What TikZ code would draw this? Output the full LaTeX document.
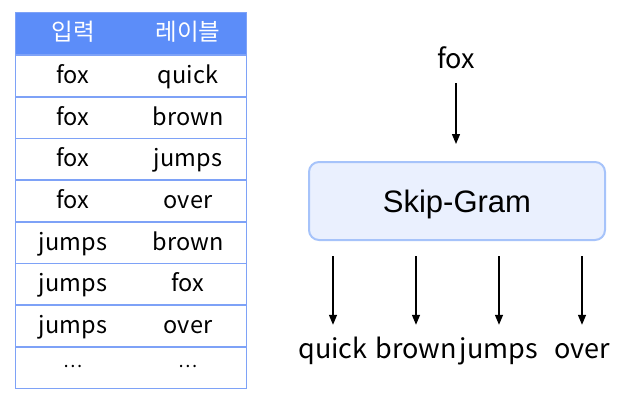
\documentclass[tikz,border=0pt]{standalone}
\usepackage{fontspec}
\setmainfont{Noto Sans CJK KR}
\newfontfamily\arialfont{Liberation Sans}
\usetikzlibrary{arrows.meta, positioning}

\definecolor{headblue}{HTML}{5C8DF9}
\definecolor{lineblue}{HTML}{7EA2F7}
\definecolor{boxfill}{HTML}{EAF0FE}
\definecolor{boxline}{HTML}{A6C3FA}

\begin{document}
\begin{tikzpicture}[
  x=1pt, y=-1pt,
  row/.style={draw=lineblue, line width=1pt, minimum width=231pt,
              minimum height=41.75pt, inner sep=0pt},
  head/.style={row, fill=headblue, minimum height=42pt},
  cell/.style={font=\fontsize{23.5}{26}\selectfont, inner sep=0pt,
               text height=17pt, text depth=5pt},
  headcell/.style={cell, text=white},
  dots/.style={font=\fontsize{18}{20}\selectfont, inner sep=0pt},
  word/.style={font=\fontsize{27}{30}\selectfont, inner sep=0pt,
               text height=20pt, text depth=6pt},
  model/.style={draw=boxline, fill=boxfill, line width=2pt, rounded corners=10pt,
                minimum width=296pt, minimum height=78pt,
                text height=22pt, text depth=0pt,
                font=\arialfont\fontsize{31}{34}\selectfont},
  arr/.style={-{Triangle[length=10pt, width=8pt]}, line width=1.3pt}
]
  \useasboundingbox (0,0) rectangle (621,412);

  % table
  \node[head] (H)  at (130.5,34)  {};
  \node[row]  (R1) at (130.5,76)  {};
  \node[row]  (R2) at (130.5,118) {};
  \node[row]  (R3) at (130.5,159) {};
  \node[row]  (R4) at (130.5,201) {};
  \node[row]  (R5) at (130.5,243) {};
  \node[row]  (R6) at (130.5,284) {};
  \node[row]  (R7) at (130.5,326) {};
  \node[row]  (R8) at (130.5,368) {};

  \node[headcell] (inH)  at (73,35)  {입력};
  \node[headcell] (labH) at (188,35) {레이블};
  \node[cell] (in1)  at (73,77)   {fox};
  \node[cell] (lab1) at (188,77)  {quick};
  \node[cell] (in2)  at (73,119)  {fox};
  \node[cell] (lab2) at (188,119) {brown};
  \node[cell] (in3)  at (73,160)  {fox};
  \node[cell] (lab3) at (188,160) {jumps};
  \node[cell] (in4)  at (73,202)  {fox};
  \node[cell] (lab4) at (188,202) {over};
  \node[cell] (in5)  at (73,244)  {jumps};
  \node[cell] (lab5) at (188,244) {brown};
  \node[cell] (in6)  at (73,285)  {jumps};
  \node[cell] (lab6) at (188,285) {fox};
  \node[cell] (in7)  at (73,327)  {jumps};
  \node[cell] (lab7) at (188,327) {over};
  \node[dots] (in8)  at (73,366)  {⋯};
  \node[dots] (lab8) at (188,366) {⋯};

  % model
  \node[word]  (center) at (456,61)  {fox};
  \node[model] (SG)     at (457,201) {Skip-Gram};

  \node[word] (quick) at (333,351) {quick};
  \node[word] (brown) at (416,351) {brown};
  \node[word] (jumps) at (499,351) {jumps};
  \node[word] (over)  at (582,351) {over};

  \draw[arr, shorten <=9pt] (center) -- ([yshift=17pt]SG.north -| center);
  \draw[arr, shorten >=13pt] ([yshift=-15pt]SG.south -| quick) -- (quick);
  \draw[arr, shorten >=13pt] ([yshift=-15pt]SG.south -| brown) -- (brown);
  \draw[arr, shorten >=13pt] ([yshift=-15pt]SG.south -| jumps) -- (jumps);
  \draw[arr, shorten >=13pt] ([yshift=-15pt]SG.south -| over)  -- (over);
\end{tikzpicture}
\end{document}
